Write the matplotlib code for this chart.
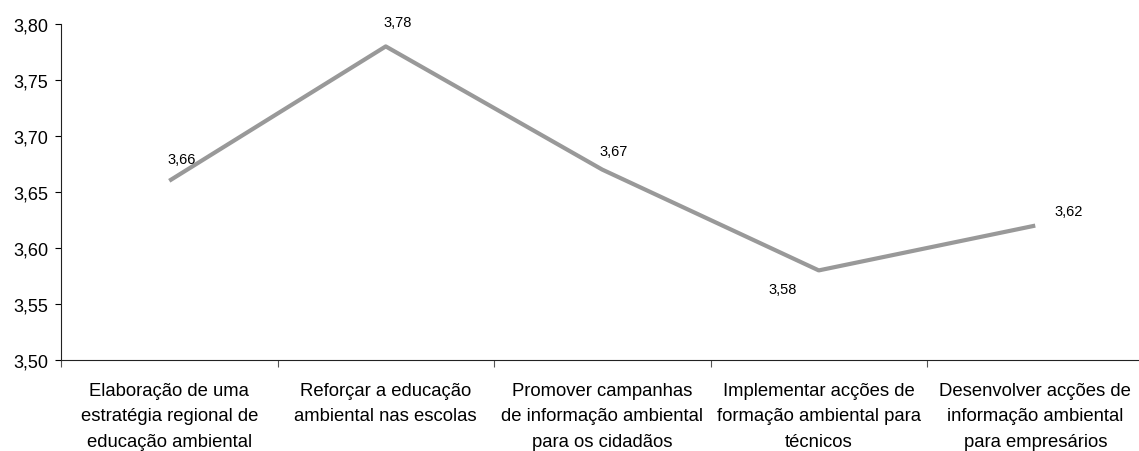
import matplotlib
matplotlib.use("Agg")
import matplotlib.pyplot as plt
from matplotlib.ticker import FixedLocator, FuncFormatter

categories = [
    "Elaboração de uma\nestratégia regional de\neducação ambiental",
    "Reforçar a educação\nambiental nas escolas",
    "Promover campanhas\nde informação ambiental\npara os cidadãos",
    "Implementar acções de\nformação ambiental para\ntécnicos",
    "Desenvolver acções de\ninformação ambiental\npara empresários",
]
values = [3.66, 3.78, 3.67, 3.58, 3.62]
yticks = [3.50, 3.55, 3.60, 3.65, 3.70, 3.75, 3.80]

# label offsets in pixels (style)
label_offsets = [(12, 22), (12, 24), (11, 19), (-36, -19), (33, 15)]

plt.rcParams['font.family'] = ['Liberation Sans', 'DejaVu Sans']

W, H = 1139, 452
fig = plt.figure(figsize=(W / 100, H / 100), dpi=100)
left, right, top, bottom = 61, 1143.5, 25, 361
ax = fig.add_axes([left / W, (H - bottom) / H, (right - left) / W, (bottom - top) / H])

x = list(range(len(values)))
ax.plot(x, values, color='#999999', linewidth=3.0, solid_capstyle='butt', clip_on=False)

for xi, v, (dx, dy) in zip(x, values, label_offsets):
    ax.annotate(f"{v:.2f}".replace('.', ','), (xi, v), xytext=(dx, dy),
                textcoords='offset pixels', ha='center', va='center', fontsize=10.5)

ax.set_xlim(-0.5, len(values) - 0.5)
ax.set_ylim(3.50, 3.80)
ax.set_yticks(yticks)
ax.yaxis.set_major_formatter(FuncFormatter(lambda v, p: f"{v:.2f}".replace('.', ',')))
ax.set_xticks(x)
ax.set_xticklabels(categories, fontsize=13.3, linespacing=1.66, va='top')
ax.xaxis.set_minor_locator(FixedLocator([i + 0.5 for i in range(-1, len(values))]))

ax.tick_params(axis='x', which='major', length=0, pad=15.5)
ax.tick_params(axis='x', which='minor', length=5, width=0.8, color='#555555')
ax.tick_params(axis='y', length=4, width=0.8, labelsize=13, pad=5)

for s in ['top', 'right']:
    ax.spines[s].set_visible(False)
for s in ['left', 'bottom']:
    ax.spines[s].set_linewidth(0.8)
    ax.spines[s].set_color('#222222')

fig.savefig('out.png', dpi=100)
